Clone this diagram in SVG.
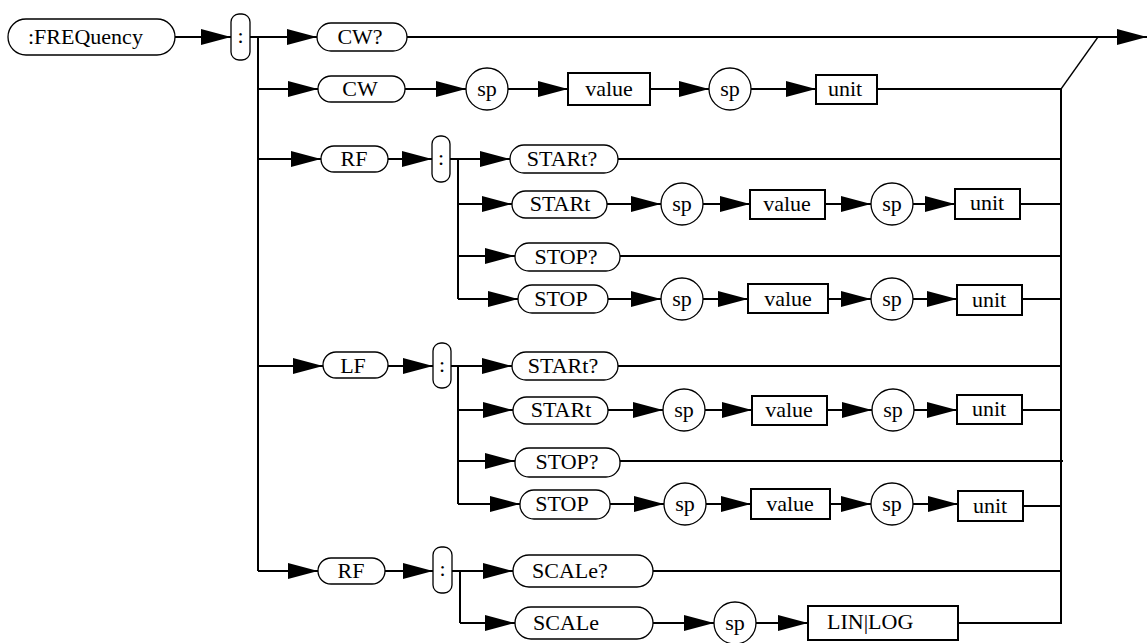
<svg xmlns="http://www.w3.org/2000/svg" width="1148" height="643" viewBox="0 0 1148 643">
<style>
.pill{fill:#fff;stroke:#000;stroke-width:1.3}
.box{fill:#fff;stroke:#000;stroke-width:2}
.circ{fill:#fff;stroke:#000;stroke-width:1.3}
.t{font-family:"Liberation Serif","Times New Roman",serif;font-size:22px;fill:#000}
.c{text-anchor:middle}
.ln{fill:none;stroke:#000;stroke-width:2}
.a{marker-end:url(#ah)}
</style>
<defs>
<marker id="ah" markerUnits="userSpaceOnUse" markerWidth="30" markerHeight="16" refX="30" refY="8" orient="auto">
<path d="M0,0 L30,8 L0,16 z" fill="#000"/>
</marker>
</defs>
<g id="connectors">
<line class="ln a" x1="175" y1="37" x2="231" y2="37"/>
<polyline class="ln" points="250,37 258,37 258,571"/>
<line class="ln a" x1="258" y1="37" x2="317" y2="37"/>
<line class="ln a" x1="407" y1="37" x2="1147" y2="37"/>
<line class="ln a" x1="258" y1="89" x2="318" y2="89"/>
<line class="ln a" x1="405" y1="89" x2="466" y2="89"/>
<line class="ln a" x1="508" y1="89" x2="568" y2="89"/>
<line class="ln a" x1="650" y1="89" x2="709" y2="89"/>
<line class="ln a" x1="751" y1="89" x2="816" y2="89"/>
<line class="ln" x1="877" y1="89" x2="1061" y2="89"/>
<line x1="1061" y1="89" x2="1098" y2="37" stroke="#000" stroke-width="1.3"/>
<line class="ln" x1="1061" y1="89" x2="1061" y2="623"/>
<!-- RF 1 -->
<line class="ln a" x1="258" y1="159" x2="321" y2="159"/>
<line class="ln a" x1="388" y1="159" x2="432" y2="159"/>
<polyline class="ln" points="450,159 458,159 458,299"/>
<line class="ln a" x1="458" y1="159" x2="510" y2="159"/>
<line class="ln" x1="618" y1="159" x2="1061" y2="159"/>
<line class="ln a" x1="458" y1="204" x2="512" y2="204"/>
<line class="ln a" x1="607" y1="204" x2="661" y2="204"/>
<line class="ln a" x1="703" y1="204" x2="750" y2="204"/>
<line class="ln a" x1="825" y1="204" x2="871" y2="204"/>
<line class="ln a" x1="913" y1="204" x2="955" y2="204"/>
<line class="ln" x1="1020" y1="204" x2="1061" y2="204"/>
<line class="ln a" x1="458" y1="256" x2="515" y2="256"/>
<line class="ln" x1="620" y1="256" x2="1061" y2="256"/>
<line class="ln a" x1="458" y1="299" x2="518" y2="299"/>
<line class="ln a" x1="608" y1="299" x2="661" y2="299"/>
<line class="ln a" x1="703" y1="299" x2="748" y2="299"/>
<line class="ln a" x1="828" y1="299" x2="871" y2="299"/>
<line class="ln a" x1="913" y1="299" x2="957" y2="299"/>
<line class="ln" x1="1022" y1="299" x2="1061" y2="299"/>
<!-- LF -->
<line class="ln a" x1="258" y1="366" x2="323" y2="366"/>
<line class="ln a" x1="388" y1="366" x2="433" y2="366"/>
<polyline class="ln" points="451,366 458,366 458,504"/>
<line class="ln a" x1="458" y1="366" x2="512" y2="366"/>
<line class="ln" x1="618" y1="366" x2="1061" y2="366"/>
<line class="ln a" x1="458" y1="410" x2="513" y2="410"/>
<line class="ln a" x1="608" y1="410" x2="663" y2="410"/>
<line class="ln a" x1="705" y1="410" x2="752" y2="410"/>
<line class="ln a" x1="827" y1="410" x2="872" y2="410"/>
<line class="ln a" x1="914" y1="410" x2="957" y2="410"/>
<line class="ln" x1="1022" y1="410" x2="1061" y2="410"/>
<line class="ln a" x1="458" y1="461" x2="515" y2="461"/>
<line class="ln" x1="620" y1="461" x2="1063" y2="461"/>
<line class="ln a" x1="458" y1="504" x2="520" y2="504"/>
<line class="ln a" x1="610" y1="504" x2="664" y2="504"/>
<line class="ln a" x1="706" y1="504" x2="751" y2="504"/>
<line class="ln a" x1="830" y1="504" x2="871" y2="504"/>
<line class="ln a" x1="913" y1="504" x2="958" y2="504"/>
<line class="ln" x1="1023" y1="506" x2="1061" y2="506"/>
<!-- RF 2 -->
<line class="ln a" x1="258" y1="571" x2="318" y2="571"/>
<line class="ln a" x1="385" y1="571" x2="433" y2="571"/>
<polyline class="ln" points="452,571 460,571 460,623"/>
<line class="ln a" x1="460" y1="571" x2="513" y2="571"/>
<line class="ln" x1="653" y1="571" x2="1061" y2="571"/>
<line class="ln a" x1="460" y1="623" x2="515" y2="623"/>
<line class="ln a" x1="653" y1="623" x2="714" y2="623"/>
<line class="ln a" x1="756" y1="623" x2="808" y2="623"/>
<line class="ln" x1="958" y1="623" x2="1062" y2="623"/>
</g>
<g id="n-freq"><rect class="pill" x="8" y="19" width="167" height="36" rx="18"/><text class="t" x="28" y="44">:FREQuency</text></g>
<g id="n-colon1"><rect class="pill" x="231" y="14" width="19" height="46" rx="8"/><text class="t c" x="240.5" y="43">:</text></g>
<g id="n-cwq"><rect class="pill" x="317" y="23" width="90" height="28" rx="14"/><text class="t c" x="360" y="44">CW?</text></g>
<g id="n-cw"><rect class="pill" x="318" y="76" width="87" height="26" rx="13"/><text class="t c" x="360" y="96">CW</text></g>
<g id="n-cw-sp1"><circle class="circ" cx="487" cy="89" r="21"/><text class="t c" x="487" y="96">sp</text></g>
<g id="n-cw-val"><rect class="box" x="568" y="73" width="82" height="32"/><text class="t c" x="609" y="96">value</text></g>
<g id="n-cw-sp2"><circle class="circ" cx="730" cy="89" r="21"/><text class="t c" x="730" y="96">sp</text></g>
<g id="n-cw-unit"><rect class="box" x="816" y="75" width="61" height="29"/><text class="t c" x="845" y="96">unit</text></g>

<g id="n-rf1"><rect class="pill" x="321" y="146" width="67" height="26" rx="13"/><text class="t c" x="354" y="166">RF</text></g>
<g id="n-colon2"><rect class="pill" x="432" y="136" width="18" height="46" rx="8"/><text class="t c" x="441" y="165">:</text></g>
<g id="n-rf-startq"><rect class="pill" x="510" y="145" width="108" height="28" rx="14"/><text class="t c" x="562" y="166">STARt?</text></g>
<g id="n-rf-start"><rect class="pill" x="512" y="191" width="95" height="27" rx="13.5"/><text class="t c" x="560" y="211">STARt</text></g>
<g id="n-rf-start-sp1"><circle class="circ" cx="682" cy="204" r="21"/><text class="t c" x="682" y="211">sp</text></g>
<g id="n-rf-start-val"><rect class="box" x="750" y="190" width="75" height="29"/><text class="t c" x="787" y="211">value</text></g>
<g id="n-rf-start-sp2"><circle class="circ" cx="892" cy="204" r="21"/><text class="t c" x="892" y="211">sp</text></g>
<g id="n-rf-start-unit"><rect class="box" x="955" y="189" width="65" height="30"/><text class="t c" x="987" y="210">unit</text></g>
<g id="n-rf-stopq"><rect class="pill" x="515" y="243" width="105" height="28" rx="14"/><text class="t c" x="566" y="264">STOP?</text></g>
<g id="n-rf-stop"><rect class="pill" x="518" y="285" width="90" height="28" rx="14"/><text class="t c" x="561" y="306">STOP</text></g>
<g id="n-rf-stop-sp1"><circle class="circ" cx="682" cy="299" r="21"/><text class="t c" x="682" y="306">sp</text></g>
<g id="n-rf-stop-val"><rect class="box" x="748" y="284" width="80" height="29"/><text class="t c" x="788" y="306">value</text></g>
<g id="n-rf-stop-sp2"><circle class="circ" cx="892" cy="299" r="21"/><text class="t c" x="892" y="306">sp</text></g>
<g id="n-rf-stop-unit"><rect class="box" x="957" y="285" width="65" height="30"/><text class="t c" x="989" y="307">unit</text></g>

<g id="n-lf"><rect class="pill" x="323" y="352" width="65" height="26" rx="13"/><text class="t c" x="353" y="373">LF</text></g>
<g id="n-colon3"><rect class="pill" x="433" y="343" width="18" height="45" rx="8"/><text class="t c" x="442" y="372">:</text></g>
<g id="n-lf-startq"><rect class="pill" x="512" y="352" width="106" height="28" rx="14"/><text class="t c" x="563" y="373">STARt?</text></g>
<g id="n-lf-start"><rect class="pill" x="513" y="397" width="95" height="27" rx="13.5"/><text class="t c" x="561" y="417">STARt</text></g>
<g id="n-lf-start-sp1"><circle class="circ" cx="684" cy="410" r="21"/><text class="t c" x="684" y="417">sp</text></g>
<g id="n-lf-start-val"><rect class="box" x="752" y="396" width="75" height="29"/><text class="t c" x="789" y="417">value</text></g>
<g id="n-lf-start-sp2"><circle class="circ" cx="893" cy="410" r="21"/><text class="t c" x="893" y="417">sp</text></g>
<g id="n-lf-start-unit"><rect class="box" x="957" y="395" width="65" height="29"/><text class="t c" x="989" y="416">unit</text></g>
<g id="n-lf-stopq"><rect class="pill" x="515" y="448" width="105" height="29" rx="14"/><text class="t c" x="567" y="469">STOP?</text></g>
<g id="n-lf-stop"><rect class="pill" x="520" y="490" width="90" height="29" rx="14"/><text class="t c" x="562" y="511">STOP</text></g>
<g id="n-lf-stop-sp1"><circle class="circ" cx="685" cy="504" r="21"/><text class="t c" x="685" y="511">sp</text></g>
<g id="n-lf-stop-val"><rect class="box" x="751" y="489" width="79" height="30"/><text class="t c" x="790" y="511">value</text></g>
<g id="n-lf-stop-sp2"><circle class="circ" cx="892" cy="504" r="21"/><text class="t c" x="892" y="511">sp</text></g>
<g id="n-lf-stop-unit"><rect class="box" x="958" y="491" width="65" height="30"/><text class="t c" x="990" y="513">unit</text></g>

<g id="n-rf2"><rect class="pill" x="318" y="558" width="67" height="26" rx="13"/><text class="t c" x="351" y="578">RF</text></g>
<g id="n-colon4"><rect class="pill" x="433" y="547" width="19" height="46" rx="8"/><text class="t c" x="442.5" y="576">:</text></g>
<g id="n-scaleq"><rect class="pill" x="513" y="555" width="140" height="32" rx="16"/><text class="t" x="532" y="578">SCALe?</text></g>
<g id="n-scale"><rect class="pill" x="515" y="607" width="138" height="32" rx="16"/><text class="t" x="533" y="630">SCALe</text></g>
<g id="n-scale-sp"><circle class="circ" cx="735" cy="623" r="21"/><text class="t c" x="735" y="630">sp</text></g>
<g id="n-linlog"><rect class="box" x="808" y="606" width="150" height="34"/><text class="t" x="827" y="629">LIN|LOG</text></g>
</svg>
